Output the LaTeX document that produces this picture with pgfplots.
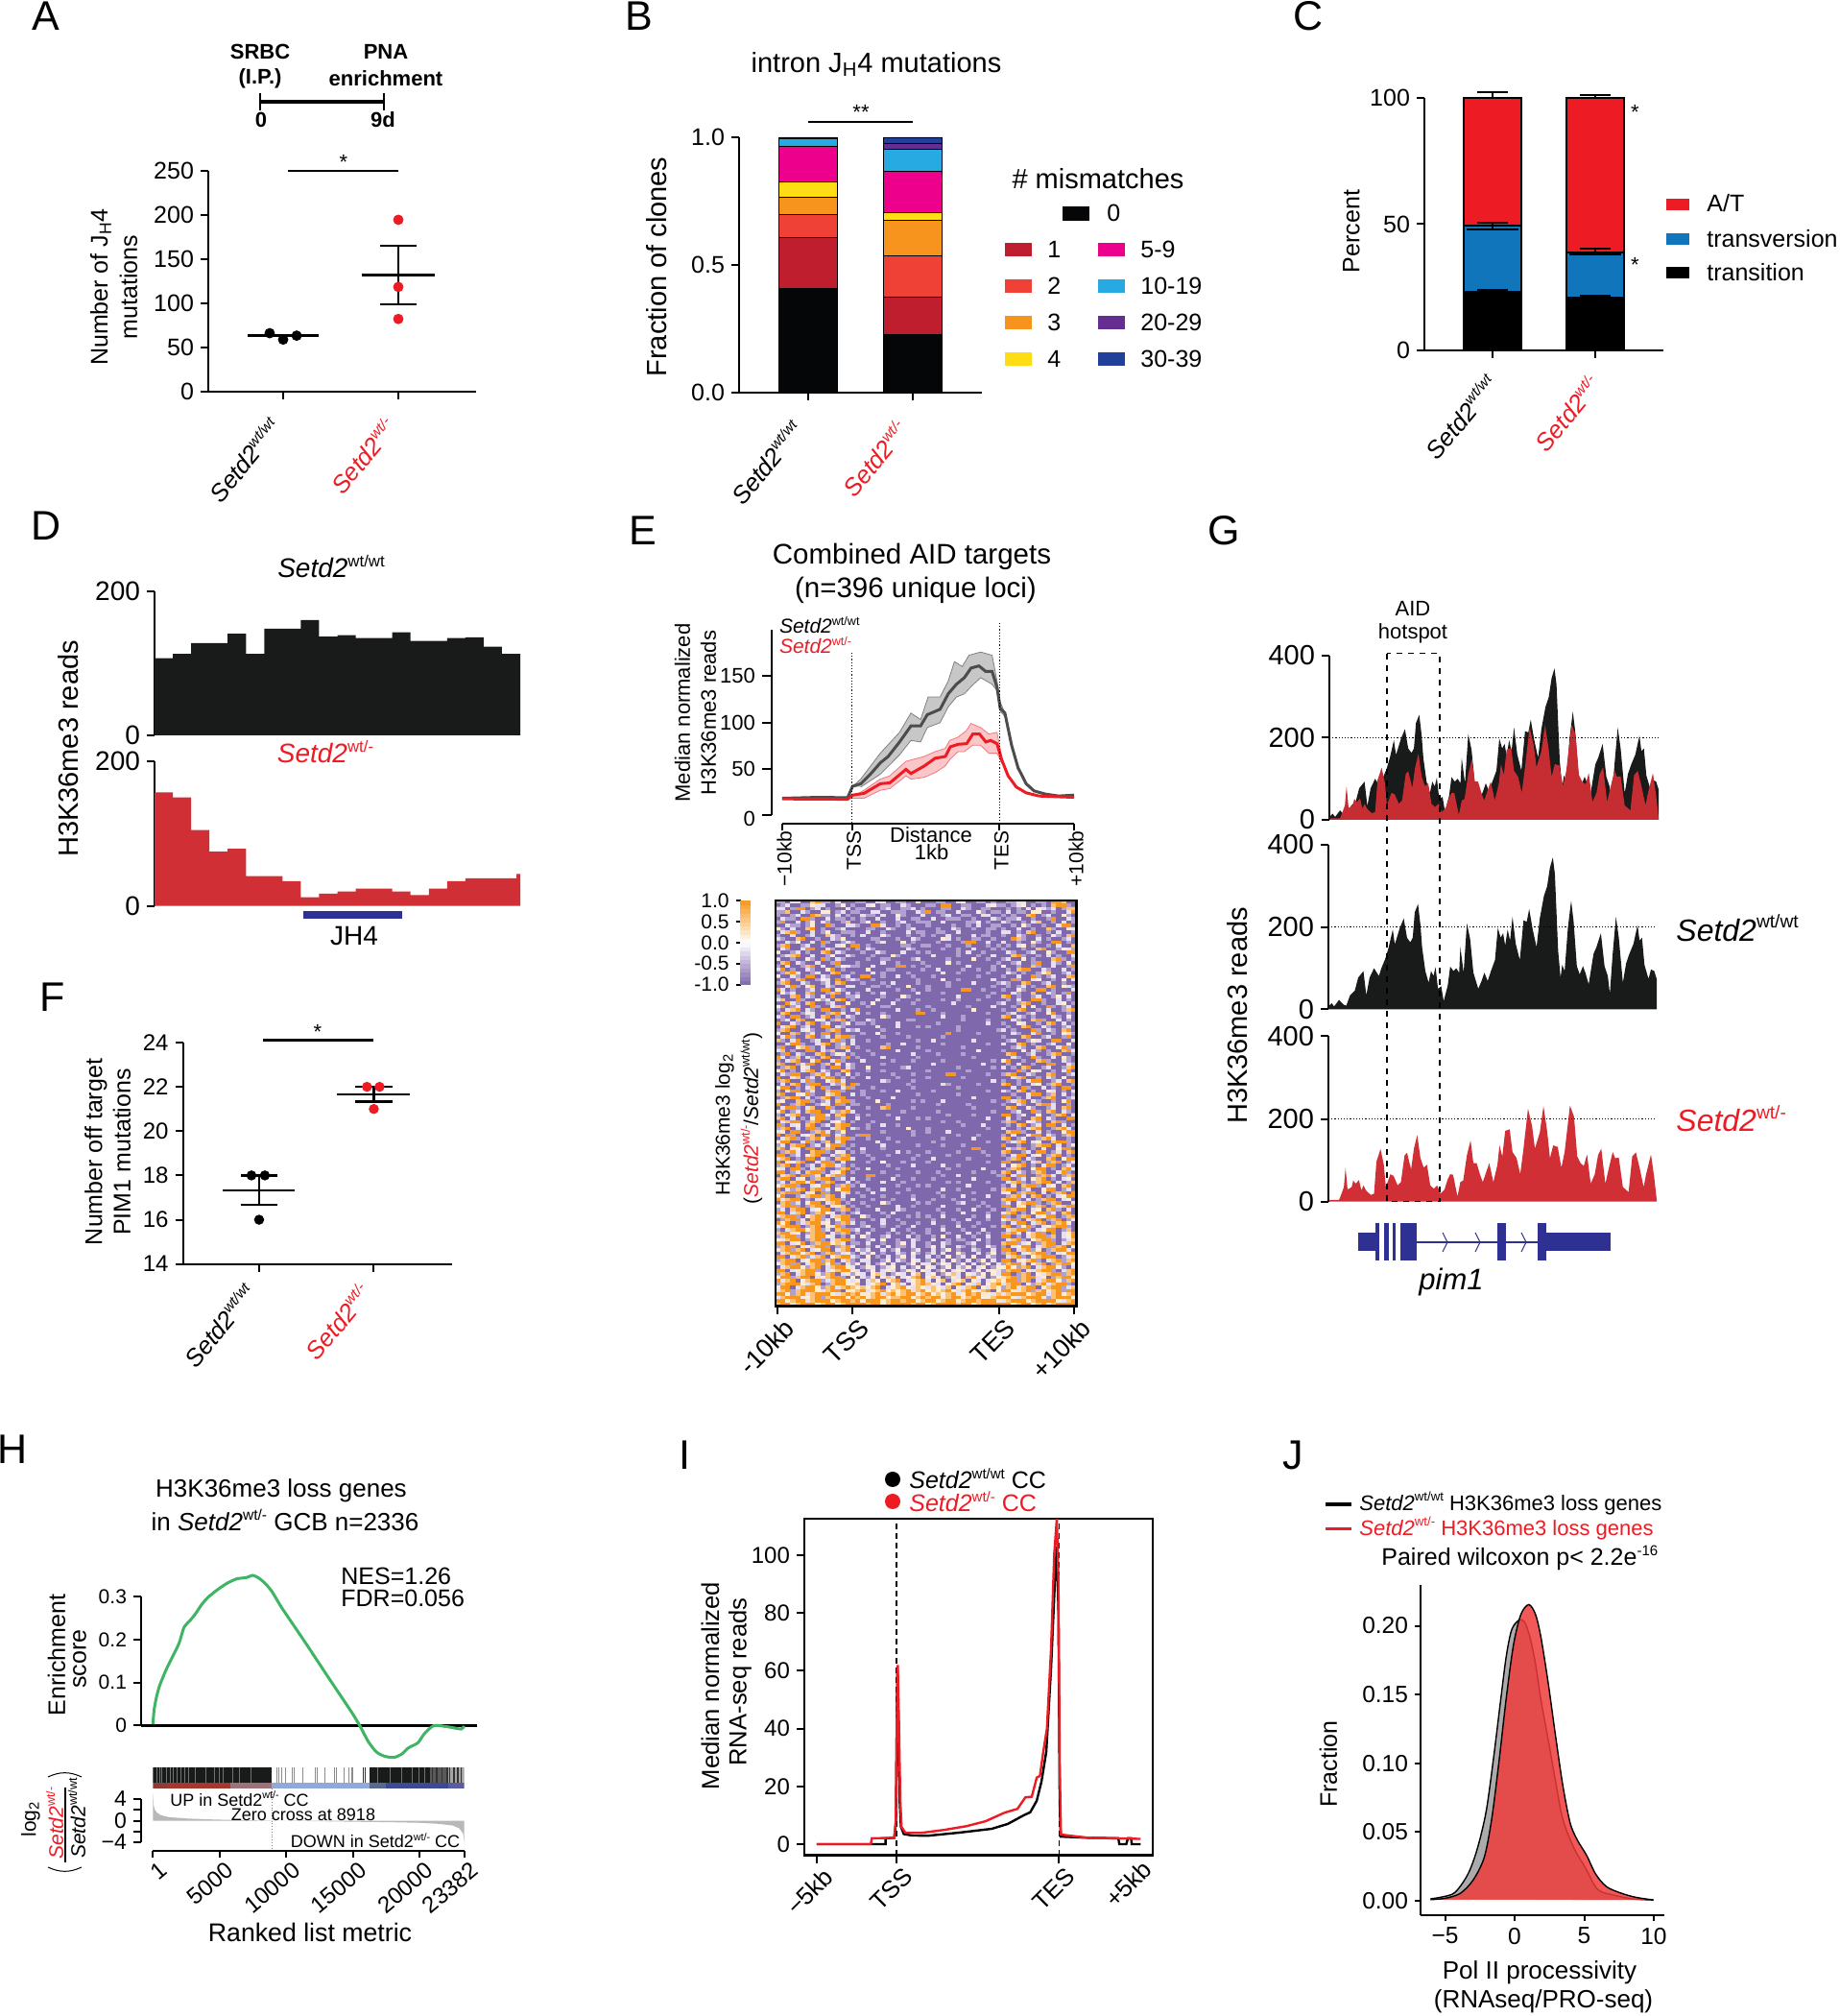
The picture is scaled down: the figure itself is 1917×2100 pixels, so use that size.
\documentclass[border=0pt]{standalone}
\usepackage{fontspec}
\setmainfont{Liberation Sans}
\usepackage{pgfplots}
\usepackage{pgfplotstable}
\pgfplotsset{compat=1.18}
\definecolor{sred}{HTML}{ED1C24}
\definecolor{bk0}{HTML}{050608}\definecolor{bk1}{HTML}{BE1E2D}\definecolor{bk2}{HTML}{EF4136}
\definecolor{bk3}{HTML}{F7941D}\definecolor{bk4}{HTML}{FFDD15}\definecolor{bk5}{HTML}{EC008C}
\definecolor{bk6}{HTML}{27AAE1}\definecolor{bk7}{HTML}{662D91}\definecolor{bk8}{HTML}{21409A}
\definecolor{cblue}{HTML}{1175BC}\definecolor{trk}{HTML}{191A1A}\definecolor{trr}{HTML}{D02F36}
\definecolor{gene}{HTML}{2E3192}\definecolor{gsea}{HTML}{3DB565}\definecolor{jred}{HTML}{EE3B3B}
\definecolor{st1}{HTML}{8E3B36}\definecolor{st2}{HTML}{A8362E}\definecolor{st3}{HTML}{9E7078}\definecolor{st4}{HTML}{8FA9D9}\definecolor{st5}{HTML}{55698F}\definecolor{st6}{HTML}{3A4B94}\definecolor{st7}{HTML}{5B5BA0}
\newcommand\fs[1]{\fontsize{\fpeval{#1/2}}{\fpeval{#1*0.6}}\selectfont}
\newcommand\sups[1]{\raisebox{.42em}{\scalebox{.6}{#1}}}
\newcommand\wtwt{\textit{Setd2}\sups{wt/wt}}
\newcommand\wtm{\textit{Setd2}\sups{wt/-}}
\newcommand\wtwti{\textit{Setd2}\sups{\textit{wt/wt}}}
\newcommand\wtmi{\textit{Setd2}\sups{\textit{wt/-}}}
\newcommand\T[4][]{\node[inner sep=0pt,#1] at (#2,{2100-(#3)}) {#4};}
\newcommand\seg[5][]{\draw[#1] (#2,{2100-(#3)}) -- (#4,{2100-(#5)});}
\newcommand\rect[5]{\fill[#1] (#2,{2100-(#3)}) rectangle (#4,{2100-(#5)});}
\pgfplotsset{
 panel/.code n args={4}{%
  \pgfmathsetlengthmacro\pw{(#3-#1)*0.5pt}\pgfmathsetlengthmacro\ph{(#4-#2)*0.5pt}%
  \pgfmathsetlengthmacro\pa{(#1)*0.5pt}\pgfmathsetlengthmacro\pb{(2100-(#4))*0.5pt}%
  \edef\tmp{\noexpand\pgfplotsset{at={(\pa,\pb)},anchor=south west,width=\pw,height=\ph}}\tmp},
 base/.style={scale only axis,clip=false,enlargelimits=false,scaled ticks=false,
  axis line style={-,line width=1.1pt},tick style={black,line width=1pt},
  major tick length=4pt,minor tick num=0,tick label style={font=\fs{25}},
  xtick=\empty,ytick=\empty},
 rot/.style={xticklabel style={rotate=#1,anchor=north east,inner sep=0pt,font=\fs{25.5},yshift=-4.5pt,xshift=-6pt}},
 rotb/.style={xticklabel style={rotate=#1,anchor=north east,inner sep=0pt,font=\fs{27},yshift=-3pt,xshift=1pt}},
 colormap={hm}{rgb255=(127,104,172) rgb255=(190,175,215) rgb255=(255,255,255) rgb255=(252,205,140) rgb255=(248,150,30)},
}
\pgfplotstableread{
x y
0 7
8 15
14 7
26 23
38 11
44 9
53 34
65 46
73 77
86 93
93 34
101 77
112 100
124 81
130 100
140 124
148 151
158 194
163 158
175 197
185 221
193 174
201 163
207 174
212 236
220 256
226 205
230 151
238 93
246 65
252 93
258 81
263 103
269 50
277 56
283 20
293 58
299 104
307 93
314 100
321 89
324 151
332 89
340 209
348 171
356 89
368 50
376 69
383 89
391 69
399 93
409 120
416 198
423 174
429 185
434 155
440 194
446 167
452 225
460 159
470 120
479 216
487 213
493 244
501 197
511 151
519 221
529 275
537 299
544 345
551 369
556 330
564 143
570 77
574 108
580 93
588 198
596 264
602 214
610 105
617 85
625 105
631 89
639 61
651 135
658 151
669 185
678 105
686 81
691 38
698 135
706 225
713 174
723 65
731 112
739 135
749 159
759 205
764 167
770 174
776 108
786 74
792 97
800 93
806 74
}\gblack
\pgfplotstableread{
x y
2 4
22 4
26 4
28 8
38 35
42 82
47 29
57 35
61 51
67 43
75 52
81 27
86 39
93 26
104 16
112 19
118 97
128 127
136 89
141 35
152 66
160 62
170 39
178 47
187 112
193 118
203 78
210 128
218 161
226 105
234 82
242 89
250 39
259 31
267 39
275 19
285 29
293 54
299 66
306 65
317 12
324 47
331 51
340 112
349 148
356 93
364 93
372 66
379 47
387 70
395 93
405 47
415 89
420 136
427 109
434 171
445 175
452 120
462 105
471 66
479 128
490 225
500 183
507 128
519 167
528 231
537 171
544 105
552 136
563 132
572 82
580 120
593 232
603 206
611 109
619 93
627 86
635 114
644 43
654 66
662 112
670 128
680 43
686 70
698 120
704 105
713 106
723 35
737 23
746 109
755 119
764 82
774 35
780 66
792 114
800 58
806 4
}\gred
% heat map cells: 0 purple ... 3 white ... 5 orange
\makeatletter
\newcount\hr \newcount\hc \hr=0
\gdef\cells{}
\def\addc#1{\xdef\rowc{\rowc (\the\hc,\the\hr) [#1]}\global\advance\hc by 1 }
\def\hscan#1{\ifx#1\end\let\hnext\hpad\else\ifnum\hc<60 \addc{#1}\fi\let\hnext\hscan\fi\hnext}
\def\hpad{\ifnum\hc<60 \addc{0}\expandafter\hpad\fi}
\def\R#1{\gdef\rowc{}\global\hc=0 \hscan#1\end\xdef\cells{\cells\rowc}\global\advance\hr by 1 }
\makeatother
\R{110220045110200 011002200110030 001100230011010 011220011055400}
\R{012001132200130 100230110021000 110550011000231 101230101045510}
\R{220155012010002 011000120011201 000110021001100 010102032120144}
\R{114002100330120 110022001110021 501100200031011 020110330010025}
\R{100120054110201 002110200310002 000120011002200 101004501200310}
\R{021105510020110 101002000200110 020011100100021 011200100150021}
\R{150020130210014 001300100120011 100200001130100 210010240010201}
\R{002110130051002 210055200101000 100001001020011 001031001002550}
\R{310200450100120 000110021001200 001002100100110 100200100410032}
\R{024510020130011 100200100002011 001100200000100 220104500102001}
\R{100200120042100 102000310001001 010020000201100 100210010031045}
\R{210045001002130 000011000100210 000320100110010 005410020100120}
\R{002130020510012 100001200030100 001000015500200 200100310055010}
\R{145001200100230 550100000011001 100010001000101 010230100102004}
\R{021002550021001 010210000002100 000100100200010 100010045001321}
\R{300120100450210 001002100020010 100000102001000 021001200310055}
\R{012450020013002 100010003100000 020000100010020 004510010201002}
\R{200100310510210 000100110000120 000010000300100 120030100045101}
\R{045021002001500 010000200100001 000030100000001 001200150021030}
\R{102001450200132 110020000550100 100000002000010 300100410020015}
\R{250100210035010 000300011000001 002000010010010 010455002100201}
\R{014520012004500 100020100001000 000200100000100 021010013400120}
\R{300210550210012 005500100200100 010000000010000 100200510120045}
\R{021045001320501 210010000000010 000300100000020 005100230010302}
\R{145002100120450 001000102000010 000010000200001 210045001200100}
\R{002510340021002 200011010003000 100010000000010 010120100450321}
\R{520100120550310 000200000100100 100000055001000 100310055010002}
\R{031200450014502 010010200000020 000100000000010 002100400210150}
\R{100450210205001 120000100031000 000000200000100 450100120013020}
\R{240051003120450 100002000100010 000100100010000 010200551002010}
\R{005210450012003 001030002000100 000002000000001 200145001002301}
\R{350120051002450 000100110000000 100000001000020 001020300510120}
\R{102450210550010 250000000200010 010000000300000 100450010200145}
\R{045001320014520 020100100000055 000100000000100 012001200350010}
\R{210550120450102 100000310000000 000200010000000 450210100021030}
\R{012045003201450 100210000001100 000000010000100 002100451002010}
\R{500210450120013 011010000200000 001000000000200 100320010450201}
\R{024501200550210 000002000200010 100000100000000 010045002100120}
\R{145002310014502 120000100000000 000000100000001 201000510210450}
\R{300450120550100 001003000100000 000050000010000 002100250010321}
\R{025100450120455 100000100001000 000100000000000 100045001200150}
\R{410250012004510 200100000000010 020000000200000 012001320055002}
\R{002551002450120 200000010020000 000100000000100 200450100120030}
\R{150034510200145 010000450000010 000000010000000 001210045002510}
\R{240100550214002 000100000200000 100000000030000 100030210100452}
\R{015021004501320 100010000000200 001000010000000 045001200145001}
\R{520140210450015 010000200000010 000000000100000 002100510020310}
\R{102450035002510 002000001000100 000100000000010 350010045100210}
\R{450012550140203 100000100000000 020000000002000 010200100550021}
\R{014503200105502 100300000012000 000000100000010 201045001200145}
\R{350102450210045 000100100000000 100000001000000 000510320010250}
\R{021550014520103 010000001000100 000055000000100 145002100450012}
\R{500240120455010 100200000100000 100000010000000 002450010210300}
\R{145002510034520 000000210000100 000000000000020 100102550012045}
\R{020450155002140 510000000001000 000210000010000 450100230145001}
\R{355010240510025 100010000000100 000000100000000 002051002010550}
\R{102550120045510 001000100200000 010000000000100 210450100320102}
\R{450023510024500 201000000000010 000000100000000 001002550140201}
\R{014550201450150 000100002000000 000000000200000 550102001450012}
\R{230045510120455 100003000000101 000200000000010 012450210010350}
\R{500145001320510 110000010000000 001000001000000 100210045520010}
\R{025510240051002 000100450000100 000000000100000 045003100120450}
\R{350120455002145 200000000010000 001000000000010 001200510450210}
\R{102450015520450 010100010000000 000010000100000 550120030014502}
\R{450201035510120 020000000200010 100000000000200 020100450210055}
\R{024550145002310 100010000000000 000100100000000 145003210045100}
\R{510230450120455 000100200100000 000000010002000 010450120550201}
\R{145020551002450 210100000003000 100000000000100 200102450014520}
\R{230550014520130 000000100000100 100020000000000 045510020100355}
\R{505102340550210 015500000000100 000000100010000 102003550210145}
\R{024510145200455 100100010000000 000100000200000 450120014520010}
\R{355002510140250 000002000100000 010000000000100 012450230045510}
\R{120455012035510 100000200000010 000100010000000 500100145502013}
\R{450230550145001 002000100000000 000000000550000 021450102003550}
\R{014520045510320 101000000201000 100000100001000 450012055012045}
\R{550120345002145 000100010000010 000010000000100 102550230145010}
\R{245010550210455 200010000000100 020000001000000 014502100450355}
\R{502345002551020 000100300010000 100000000000100 550010240145012}
\R{145050120455210 100000010000200 000200100000000 203450102550120}
\R{320551024500145 010200000100000 000010000002000 014500355010452}
\R{550120455102350 100000100000010 001000000100010 450210145002510}
\R{024505512034510 000550000100000 000100200000001 102550014520145}
\R{455023014550120 200100002000100 010000000200000 550120345010230}
\R{120455250145002 010000200010000 000010100000100 024510145502014}
\R{345510023550145 102000000100010 100000002000000 102045510230450}
\R{502145045120355 000100200001000 000200100000010 455012003550120}
\R{145550230510024 010020000100000 001000000100000 230145502014505}
\R{350012455145020 001000100000100 000100020000200 014520450102355}
\R{524550102345510 200010001000200 010001000100000 455102014550230}
\R{045120355024501 001000310000010 100000120001000 120345510145002}
\R{345510145502340 100100000200100 000200000010100 550230145012455}
\R{120455023550145 010002000210000 001000100200010 014550230451020}
\R{550245014532010 120000102000010 000100020000100 245010355120450}
\R{245510345102455 003100010001010 100200000100200 510145023550145}
\R{014552045120355 100010200100000 010001002000100 345102450145012}
\R{535012455230145 201000200010010 020000100010000 102550245014530}
\R{245550145032510 001200100100200 000100200100010 450135102345510}
\R{102455345120455 120010002001000 100200010002000 024551023550140}
\R{455230145502145 010200010100100 100010002010100 145203451050235}
\R{145510245532010 203100120002010 010300200100200 550102455140235}
\R{324550145102455 100120300100210 020010110020100 024510345510124}
\R{550235014553420 110200100130200 100210001200100 455123014550245}
\R{145502345510145 200102030110200 130200210100310 102355024514503}
\R{345145023550245 031200201300120 020130100210020 550245130145520}
\R{024553450145123 102130100210310 120200310020130 145023455102355}
\R{550245124503455 210301020130200 201030120300210 024510345550124}
\R{145502355145024 102200130210320 130203102013020 550234510245145}
\R{345150245535102 130201302001302 201320130201302 145520345014553}
\R{024553145024553 201320123020130 320130213023013 353145024553102}
\R{550234551023455 320130232013203 201302320130232 145503245510245}
\R{145024553145023 132034201320340 230134203213032 550145032455145}
\R{355145502345510 302130342023450 342013204532013 245145523014553}
\R{524503455124553 230243034502345 203402340320234 355145024553145}
\R{145553245014553 340234503420345 432034503240345 245503145245510}
\R{355024553145245 434345023453243 243240324503243 145245503455124}
\R{245145553245503 345234534345245 343453245324503 553245145345155}
\R{553145245553245 453345245345534 534345235453324 245553455245345}
\R{245553345145553 545345534455345 455345534553345 553245553145553}
\R{553455245553455 453555345545534 553455345545553 245553455553245}
\R{455245553455345 555455345555455 345555455345555 553455345245555}
\R{553555455245555 455555545555455 555455555545555 555245555455553}
\begin{document}
\begin{tikzpicture}[x=0.5pt,y=0.5pt]
\path[use as bounding box] (0,0) rectangle (1917,2100);
\tikzset{every node/.append style={font=\fs{25}}}
% letters
\T{48}{17}{\fs{43}A}\T{666}{17}{\fs{43}B}\T{1363}{17}{\fs{43}C}\T{48}{548}{\fs{43}D}\T{670}{553}{\fs{43}E}\T{55}{1039}{\fs{43}F}\T{1275}{553}{\fs{43}G}\T{13}{1510}{\fs{43}H}\T{713}{1516}{\fs{43}I}\T{1347}{1516}{\fs{43}J}
%%%% A
\T{271}{54}{\fs{22}\textbf{SRBC}}\T{271}{82}{\fs{22}\textbf{(I.P.)}}\T{402}{54}{\fs{22}\textbf{PNA}}\T{402}{82}{\fs{22}\textbf{enrichment}}
\T{272}{125}{\fs{22}\textbf{0}}\T{399}{125}{\fs{22}\textbf{9d}}
\seg[line width=1.6pt]{271}{106}{400}{106}\seg[line width=1pt]{271}{97}{271}{115}\seg[line width=1pt]{400}{97}{400}{115}
\begin{axis}[base,panel={217}{178}{496}{408},axis lines*=left,tick align=outside,xmin=.35,xmax=2.675,ymin=0,ymax=250,
 ytick={0,50,100,150,200,250},yticklabels={0,50,100,150,200,250},
 xtick={1,2},xticklabels={\wtwti,\textcolor{sred}{\wtmi}},rot=50,xticklabel style={xshift=-5.4pt,yshift=5.4pt}]
\addplot[only marks,mark=*,mark size=2.5pt,black] coordinates {(.883,66.2)(1,59)(1.117,63.4)};
\addplot[only marks,mark=*,mark size=2.5pt,sred] coordinates {(2,194.6)(2,118.6)(2,82.3)};
\addplot[black,line width=1.2pt,unbounded coords=jump] coordinates {(.69,63.5)(1.31,63.5)(1.5,nan)(1.68,132)(2.32,132)(2,nan)(2,99)(2,165)(2,nan)(1.84,165)(2.16,165)(2,nan)(1.84,99)(2.16,99)};
\end{axis}
\seg[line width=1.2pt]{300}{178}{415}{178}\T{358}{169}{\fs{22}*}
\T[rotate=90]{105}{299}{Number of J\textsubscript{H}4}\T[rotate=90]{134}{299}{mutations}
%%%% B
\begin{axis}[base,panel={770}{143}{1023}{409},axis lines*=left,tick align=outside,xmin=.339,xmax=2.66,ymin=0,ymax=1,
 ybar stacked,bar width=30.5pt,
 ytick={0,.5,1},yticklabels={0.0,0.5,1.0},xtick={1,2},xticklabels={\wtwti,\textcolor{sred}{\wtmi}},rot=50,xticklabel style={xshift=-7pt,yshift=6pt},
 every axis plot/.append style={draw=black,line width=.4pt}]
\addplot[fill=bk0] coordinates {(1,.407)(2,.229)};
\addplot[fill=bk1] coordinates {(1,.201)(2,.147)};
\addplot[fill=bk2] coordinates {(1,.088)(2,.160)};
\addplot[fill=bk3] coordinates {(1,.070)(2,.139)};
\addplot[fill=bk4] coordinates {(1,.059)(2,.031)};
\addplot[fill=bk5] coordinates {(1,.141)(2,.161)};
\addplot[fill=bk6] coordinates {(1,.030)(2,.085)};
\addplot[fill=bk7] coordinates {(1,0)(2,.023)};
\addplot[fill=bk8] coordinates {(1,.004)(2,.025)};
\end{axis}
\T{913}{67}{\fs{29}intron J\textsubscript{H}4 mutations}
\seg[line width=1.2pt]{842}{127}{951}{127}\T{897}{117}{\fs{22}**}
\T[rotate=90]{684}{278}{\fs{29}Fraction of clones}
\T{1144}{186}{\fs{29}\# mismatches}
\rect{bk0}{1107}{215}{1135}{230}\T[anchor=west]{1153}{222}{0}
\foreach \yy/\cc/\lb in {260/bk1/1,298/bk2/2,336/bk3/3,374/bk4/4}{\rect{\cc}{1047}{\yy-7}{1075}{\yy+7}\T[anchor=west]{1091}{\yy}{\lb}}
\foreach \yy/\cc/\lb in {260/bk5/5-9,298/bk6/10-19,336/bk7/20-29,374/bk8/30-39}{\rect{\cc}{1144}{\yy-7}{1172}{\yy+7}\T[anchor=west]{1188}{\yy}{\lb}}
%%%% C
\begin{axis}[base,panel={1484}{102}{1733}{365},axis lines*=left,tick align=outside,xmin=.336,xmax=2.664,ymin=0,ymax=100,
 ybar stacked,bar width=30pt,
 ytick={0,50,100},yticklabels={0,50,100},xtick={1,2},xticklabels={\wtwti,\textcolor{sred}{\wtmi}},rot=50,xticklabel style={xshift=-2.3pt,yshift=3pt},
 every axis plot/.append style={draw=black,line width=1pt}]
\addplot[fill=black] coordinates {(1,23.1)(2,20.9)};
\addplot[fill=cblue] coordinates {(1,26.2)(2,17.9)};
\addplot[fill=sred] coordinates {(1,50.7)(2,61.2)};
\end{axis}
\begin{axis}[base,panel={1484}{102}{1733}{365},axis lines=none,xmin=.336,xmax=2.664,ymin=0,ymax=100]
\addplot[black,line width=1pt,unbounded coords=jump] coordinates {(1,100)(1,102.1)(1,nan)(.85,102.1)(1.15,102.1)(1,nan)(2,100)(2,101)(1,nan)(1.85,101)(2.15,101)(1,nan)
 (.75,47.8)(1.25,47.8)(1,nan)(.85,50.5)(1.15,50.5)(1,nan)(1,47.8)(1,50.5)(1,nan)(.85,24.1)(1.15,24.1)(1,nan)(1,23)(1,24.1)(1,nan)(.75,22)(1.25,22)(1,nan)
 (1.85,40.3)(2.15,40.3)(1,nan)(2,38.8)(2,40.3)(1,nan)(1.75,37.9)(2.25,37.9)(1,nan)(1.85,21.5)(2.15,21.5)(1,nan)(2,20.5)(2,21.5)};
\end{axis}
\T[rotate=90]{1408}{241}{Percent}\T{1703.5}{117}{\fs{22}*}\T{1703.5}{276}{\fs{22}*}
\rect{sred}{1736}{207}{1760}{219}\rect{cblue}{1736}{243}{1760}{255}\rect{black}{1736}{278}{1760}{290}
\T[anchor=west]{1778}{212}{A/T}\T[anchor=west]{1778}{249}{transversion}\T[anchor=west]{1778}{284}{transition}
%%%% D
\begin{axis}[base,panel={161}{616}{542}{766},axis y line*=left,axis x line=none,tick align=outside,xmin=0,xmax=20,ymin=0,ymax=200,
 tick label style={font=\fs{28}},ytick={0,200},yticklabels={0,200}]
\addplot[const plot,fill=trk,draw=none] coordinates {(0,107)(1,113)(2,128)(3,128)(4,141)(5,113)(6,148)(7,148)(8,160)(9,137)(10,139)(11,135)(12,135)(13,143)(14,131)(15,131)(16,135)(17,136)(18,123)(19,113)(20,113)} \closedcycle;
\end{axis}
\begin{axis}[base,panel={161}{793}{542}{943.6},axis y line*=left,axis x line=none,tick align=outside,xmin=0,xmax=20,ymin=0,ymax=200,
 tick label style={font=\fs{28}},ytick={0,200},yticklabels={0,200}]
\addplot[const plot,fill=trr,draw=none] coordinates {(0,157)(1,150)(2,105)(3,75)(4,79)(5,41)(6,41)(7,34)(8,12)(9,17)(10,20)(11,24)(12,24)(13,20)(14,15)(15,24)(16,34)(17,38)(18,38)(19,38)(19.8,44)(20,44)} \closedcycle;
\end{axis}
\T{345}{590}{\fs{28}\wtwt}\T{339}{783}{\fs{28}\textcolor{sred}{\wtm}}
\T[rotate=90]{71}{780}{\fs{29}H3K36me3 reads}
\rect{gene}{316}{949}{419}{957}\T{369}{975}{\fs{28}JH4}
%%%% F
\begin{axis}[base,panel={190.6}{1086}{470.5}{1316.7},axis lines*=left,tick align=outside,xmin=.336,xmax=2.678,ymin=14,ymax=24,
 tick label style={font=\fs{24}},ytick={14,16,18,20,22,24},yticklabels={14,16,18,20,22,24},
 xtick={1,2},xticklabels={\wtwti,\textcolor{sred}{\wtmi}},rot=50,xticklabel style={xshift=-3pt,yshift=8pt}]
\addplot[only marks,mark=*,mark size=2.4pt,black] coordinates {(.933,18)(1.05,18)(1,16)};
\addplot[only marks,mark=*,mark size=2.4pt,sred] coordinates {(1.94,22)(2.05,22)(2,21)};
\addplot[black,line width=1.1pt,unbounded coords=jump] coordinates {(.68,17.33)(1.31,17.33)(1,nan)(.84,18)(1.16,18)(1,nan)(.84,16.67)(1.16,16.67)(1,nan)(1,16.67)(1,18)(1,nan)
 (1.68,21.67)(2.31,21.67)(1,nan)(1.84,22)(2.16,22)(1,nan)(1.84,21.33)(2.16,21.33)(1,nan)(2,21.33)(2,22)};
\end{axis}
\seg[line width=1.1pt]{274}{1083.6}{389}{1083.6}\T{331}{1075}{\fs{22}*}
\T[rotate=90]{100}{1200}{Number off target}\T[rotate=90]{127}{1200}{PIM1 mutations}
%%%% E top
\T{950}{580}{\fs{29.5}Combined AID targets}\T{954}{615}{\fs{29.5}(n=396 unique loci)}
\begin{axis}[base,panel={804}{656}{1119}{849.3},axis y line*=left,axis x line=none,tick align=outside,xmin=-3.6,xmax=100,ymin=0,ymax=200,
 major tick length=5pt,tick label style={font=\fs{22}},ytick={0,50,100,150},yticklabels={\raisebox{-11pt}{0},50,100,150}]
\addplot[fill=black!22,draw=black!50,line width=.4pt] coordinates {(24.1,31)(26.9,39.1)(33.6,66.9)(40.2,89.4)(44.1,110.2)(47.4,103.2)(50,127.5)(54.1,127.5)(56.9,144.8)(59,165.6)(61.7,160.4)(64,172.5)(68,176)(71.9,172.5)(73.6,144.8)(74.7,122.3)(76.3,110)(76.3,106.7)(74.7,111.9)(73.6,134.4)(71.9,141.3)(68,148.3)(65,139.6)(62.4,130.9)(59.7,127.5)(56.9,117)(54.1,99.8)(49.7,94.6)(47.4,79)(44.1,80.7)(40.2,65.1)(33.6,44.3)(26.9,30.5)};
\addplot[fill=sred!25,draw=sred!60,line width=.4pt] coordinates {(24.1,20)(28,27)(33.6,39)(36.9,42.6)(42.4,58.2)(48.6,63.4)(52.4,68.6)(55.8,72)(57.4,80.7)(60.2,84.2)(63,91)(64.7,99)(68,94.6)(70.8,87.6)(73.6,89.4)(75.2,63.4)(75.2,56.5)(73.6,66.9)(70.8,66.9)(68,75.5)(65.2,75.5)(62.4,68.6)(60.2,68.6)(57.4,60)(55.8,53)(52.4,46)(48.6,40.9)(44.1,39)(42.4,42.6)(36.9,28.8)(33.6,27)(28,18.4)(24.1,18.4)};
\addplot[black!70,line width=1.5pt] coordinates {(0,18.4)(12.4,19.4)(22.4,19)(24.1,31.2)(26.9,34)(30.2,44.3)(33.6,56.5)(36.3,63.4)(40.2,79)(44.1,96.3)(47.4,96.3)(49.7,108.4)(54.1,114.3)(56.9,131)(59.7,141.3)(62.4,148.3)(64.7,158.7)(67.4,161)(69.7,155.2)(71.9,155.2)(73.6,137.9)(74.7,115.4)(76.3,110.2)(78.6,75.5)(80.8,51.3)(83.6,34)(86.3,26.3)(90.2,22.9)(94.7,20.8)(100,21.8)};
\addplot[sred,line width=1.5pt] coordinates {(0,17.7)(22.4,17.3)(24.1,21.8)(28,23.6)(33.6,34)(36.9,35)(42.4,49.5)(44.1,45)(48.6,53)(52.4,61.5)(55.9,63.4)(57.6,73.8)(60.4,76.6)(63.2,77.2)(65.3,87.6)(67.6,87.6)(69.8,79)(71.4,80.7)(73.6,77.2)(75.2,60)(77.4,42.6)(80.2,30.5)(83.6,24.2)(88,20.8)(100,19.4)};
\end{axis}
\begin{axis}[base,panel={815}{852}{1119}{858.3},axis x line*=bottom,axis y line=none,tick align=outside,xmin=0,xmax=100,ymin=0,ymax=1,
 major tick length=3.5pt,xtick={0,23.9,74.5,100},xticklabels={−10kb,TSS,TES,+10kb},
 xticklabel style={rotate=90,anchor=east,inner sep=0pt,font=\fs{21},xshift=0pt,yshift=-1pt}]
\end{axis}
\seg[densely dotted,line width=.6pt]{887.7}{680}{887.7}{858}\seg[densely dotted,line width=.6pt]{1041.5}{649}{1041.5}{858}
\T[anchor=west]{811.6}{651}{\fs{21}\wtwt}\T[anchor=west]{811.6}{672}{\fs{21}\textcolor{sred}{\wtm}}
\T[rotate=90]{711}{742.5}{\fs{22}Median normalized}\T[rotate=90]{738}{742.5}{\fs{22}H3K36me3 reads}
\T{970}{870}{\fs{22}Distance}\T{970.5}{888}{\fs{22}1kb}
%%%% E heat
\begin{axis}[base,panel={808}{938}{1121.7}{1360.7},axis on top,xmin=-.5,xmax=59.5,ymin=-.5,ymax=119.5,y dir=reverse,clip=true,
 tick align=outside,xtick pos=lower,colormap name=hm,point meta min=0,point meta max=5,
 major tick length=4pt,xtick={-.12,14.8,44,59},xticklabels={-10kb,TSS,TES,+10kb},rotb=45,
 axis line style={line width=1.3pt}]
\edef\tmp{\noexpand\addplot[matrix plot*,mesh/cols=60,point meta=explicit] coordinates {\cells};}\tmp
\end{axis}
\begin{axis}[base,panel={771.7}{938}{781}{1025.7},axis y line*=left,axis x line=none,tick align=outside,xmin=0,xmax=1,ymin=-1,ymax=1,
 colormap name=hm,point meta min=-1,point meta max=1,major tick length=2.5pt,tick label style={font=\fs{21}},
 ytick={-1,-.5,0,.5,1},yticklabels={-1.0,-0.5,0.0,0.5,1.0}]
\addplot[surf,shader=flat mean,mesh/cols=2,point meta=y] coordinates {(0,-1)(1,-1)(0,-.9)(1,-.9)(0,-.8)(1,-.8)(0,-.7)(1,-.7)(0,-.6)(1,-.6)(0,-.5)(1,-.5)(0,-.4)(1,-.4)(0,-.3)(1,-.3)(0,-.2)(1,-.2)(0,-.1)(1,-.1)(0,0)(1,0)(0,.1)(1,.1)(0,.2)(1,.2)(0,.3)(1,.3)(0,.4)(1,.4)(0,.5)(1,.5)(0,.6)(1,.6)(0,.7)(1,.7)(0,.8)(1,.8)(0,.9)(1,.9)(0,1)(1,1)};
\end{axis}
\T[rotate=90]{755}{1171.7}{\fs{21}H3K36me3 log\textsubscript{2}}
\T[rotate=90]{783}{1165}{\fs{21}(\textcolor{sred}{\wtm}/\wtwt)}
%%%% G
\begin{axis}[base,panel={1385}{683}{1728}{854},axis y line*=left,axis x line=none,tick align=outside,xmin=0,xmax=806,ymin=0,ymax=400,
 tick label style={font=\fs{29}},ytick={0,200,400},yticklabels={0,200,400}]
\addplot[fill=trk,draw=none] table[x=x,y=y]{\gblack}\closedcycle;
\addplot[fill=trr!95!black,draw=none] table[x=x,y=y]{\gred}\closedcycle;
\addplot[densely dotted,line width=.6pt] coordinates {(0,200)(806,200)};
\end{axis}
\begin{axis}[base,panel={1384}{880}{1726}{1051.4},axis y line*=left,axis x line=none,tick align=outside,xmin=0,xmax=806,ymin=0,ymax=400,
 tick label style={font=\fs{29}},ytick={0,200,400},yticklabels={0,200,400}]
\addplot[fill=trk,draw=none] table[x=x,y=y]{\gblack}\closedcycle;
\addplot[densely dotted,line width=.6pt] coordinates {(0,200)(806,200)};
\end{axis}
\begin{axis}[base,panel={1384}{1079.5}{1726}{1251.6},axis y line*=left,axis x line=none,tick align=outside,xmin=0,xmax=806,ymin=0,ymax=400,
 tick label style={font=\fs{29}},ytick={0,200,400},yticklabels={0,200,400}]
\addplot[fill=trr,draw=none] table[x=x,y=y]{\gred}\closedcycle;
\addplot[densely dotted,line width=.6pt] coordinates {(0,200)(806,200)};
\end{axis}
\draw[dashed,line width=.7pt] (1445,{2100-680.6}) -- (1445,{2100-1251.6}) -- (1500,{2100-1251.6}) -- (1500,{2100-680.6}) -- cycle;
\T{1472}{633.6}{\fs{22}AID}\T{1472}{660}{\fs{22}hotspot}
\T[rotate=90]{1289}{1058}{\fs{29}H3K36me3 reads}
\T[anchor=west]{1746}{966.6}{\fs{32}\wtwt}\T[anchor=west]{1746}{1165}{\fs{32}\textcolor{sred}{\wtm}}
\seg[gene,line width=.6pt]{1476}{1294}{1602}{1294}
\rect{gene}{1415}{1284}{1433}{1303.5}\rect{gene}{1433}{1274}{1437}{1313}\rect{gene}{1442}{1274}{1447}{1313}\rect{gene}{1451}{1274}{1454}{1313}\rect{gene}{1459}{1274}{1476}{1313}
\rect{gene}{1560}{1274}{1568.6}{1313}\rect{gene}{1602}{1274}{1611}{1313}\rect{gene}{1611}{1284}{1678}{1303.5}
\foreach \cx in {1503,1537,1585}{\draw[gene,line width=.5pt] (\cx,{2100-1284}) -- (\cx+5,{2100-1294}) -- (\cx,{2100-1304});}
\T{1512}{1335}{\fs{31}\textit{pim1}}
%%%% H
\T{293}{1553}{\fs{26}H3K36me3 loss genes}\T{297}{1583.6}{\fs{26}in \wtm\ GCB n=2336}
\T[anchor=west]{355}{1642}{NES=1.26}\T[anchor=west]{355}{1665}{FDR=0.056}
\begin{axis}[base,panel={147}{1663}{497}{1797.5},axis lines*=left,tick align=outside,xmin=-887,xmax=24348,ymin=0,ymax=.3,
 tick label style={font=\fs{21}},ytick={0,.1,.2,.3},yticklabels={0,0.1,0.2,0.3}]
\addplot[gsea,line width=1.5pt,smooth,tension=.4] coordinates {(1,.003)(96,.038)(289,.069)(530,.095)(1011,.131)(1492,.161)(1974,.192)(2335,.228)(2816,.245)(3177,.259)(3659,.281)(4140,.298)(4862,.316)(5584,.331)(6306,.341)(7028,.344)(7510,.349)(7991,.342)(8473,.329)(8954,.311)(9676,.274)(11361,.197)(13287,.107)(14972,.029)(15573,-.002)(16175,-.037)(16777,-.061)(17379,-.071)(18101,-.074)(18702,-.066)(19184,-.052)(19906,-.04)(20387,-.019)(21109,0)(22192,-.003)(23155,-.008)(23382,-.001)};
\end{axis}
\T[rotate=90]{59}{1724}{Enrichment}\T[rotate=90]{83}{1728}{score}
\begin{axis}[base,panel={159.3}{1841}{483.7}{1863},axis lines=none,xmin=1,xmax=23382,ymin=0,ymax=22,clip=true]
\addplot[fill=trk,draw=none] coordinates {(1,6)(8918,6)(8918,22)(1,22)};
\addplot[fill=trk,draw=none] coordinates {(16295,6)(20800,6)(20800,22)(16295,22)};
\addplot[fill=black!65,draw=none] coordinates {(20800,6)(22000,6)(22000,22)(20800,22)};
\addplot[fill=black!35,draw=none] coordinates {(22000,6)(23382,6)(23382,22)(22000,22)};
\addplot[ycomb,black!55,line width=.5pt] coordinates {(300,22)(500,22)(700,22)(1000,22)(1300,22)(1500,22)(1800,22)(2100,22)(2400,22)(2700,22)(3200,22)(4000,22)(4600,22)(5000,22)(5300,22)(6000,22)(6500,22)(7400,22)(16900,22)(17800,22)(18700,22)(19500,22)(20000,22)(20400,22)};
\addplot[ycomb,black!45,line width=.6pt] coordinates {(9339,22)(9435,22)(9676,22)(9989,22)(10446,22)(10639,22)(11241,22)(12203,22)(12324,22)(12926,22)(13648,22)(13768,22)(14370,22)(14731,22)(14972,22)};
\addplot[ycomb,black!80,line width=.7pt] coordinates {(15814,22)(15934,22)(21000,22)(21300,22)(21700,22)(22100,22)(22300,22)(22600,22)(22900,22)(23150,22)};
\addplot[fill=st1,draw=none] coordinates {(1,0)(1132,0)(1132,6)(1,6)};
\addplot[fill=st2,draw=none] coordinates {(1132,0)(5826,0)(5826,6)(1132,6)};
\addplot[fill=st3,draw=none] coordinates {(5826,0)(8918,0)(8918,6)(5826,6)};
\addplot[fill=st4,draw=none] coordinates {(8918,0)(16295,0)(16295,6)(8918,6)};
\addplot[fill=st5,draw=none] coordinates {(16295,0)(17500,0)(17500,6)(16295,6)};
\addplot[fill=st6,draw=none] coordinates {(17500,0)(22200,0)(22200,6)(17500,6)};
\addplot[fill=st7,draw=none] coordinates {(22200,0)(23382,0)(23382,6)(22200,6)};
\end{axis}
\begin{axis}[base,panel={147}{1874}{483.7}{1919},axis y line*=left,axis x line=none,tick align=outside,xmin=-887,xmax=23382,ymin=-4,ymax=4,
 tick label style={font=\fs{23}},ytick={-4,-2,0,2,4},yticklabels={−4,,0,,4}]
\addplot[fill=black!28,draw=none] coordinates {(1,5.2)(60,2.8)(150,2)(300,1.5)(600,1)(1200,.65)(2500,.4)(4000,.25)(6000,.12)(8918,0)(12000,-.1)(15000,-.2)(18000,-.3)(20000,-.4)(21500,-.6)(22500,-.9)(23000,-1.4)(23300,-2.4)(23382,-4.2)(23382,0)(1,0)};
\end{axis}
\seg[densely dotted,black!50,line width=.4pt]{283.3}{1863}{283.3}{1927.6}
\T{249.5}{1873.4}{\fs{18}UP in Setd2\sups{wt/-} CC}\T{316}{1890.4}{\fs{18}Zero cross at 8918}\T{391}{1917}{\fs{18}DOWN in Setd2\sups{wt/-} CC}
\begin{axis}[base,panel={159.3}{1921}{484}{1927.6},axis x line*=bottom,axis y line=none,tick align=outside,xmin=1,xmax=23382,ymin=0,ymax=1,
 major tick length=3.5pt,xtick={1,5000,10000,15000,20000,23382},xticklabels={1,5000,10000,15000,20000,23382},rotb=40,xticklabel style={font=\fs{24}}]
\end{axis}
\T[rotate=90]{32}{1895}{\fs{21}log\textsubscript{2}}
\T[rotate=90]{57}{1899}{\fs{21}\textcolor{sred}{\wtm}}\T[rotate=90]{80}{1894}{\fs{21}\wtwt}
\seg[line width=.7pt]{68}{1862}{68}{1940}
\draw[line width=.5pt] (50,{2100-1851}) to[bend left=25] (85,{2100-1851});
\draw[line width=.5pt] (50,{2100-1945}) to[bend right=25] (85,{2100-1945});
\T{323}{2013}{\fs{26.7}Ranked list metric}
%%%% I
\fill (930,{2100-1541}) circle (8);\fill[sred] (930,{2100-1564}) circle (8);
\T[anchor=west]{947}{1540}{\wtwt\ CC}\T[anchor=west]{947}{1564}{\textcolor{sred}{\wtm\ CC}}
\begin{axis}[base,panel={838}{1582}{1201}{1932.7},tick align=outside,xtick pos=lower,ytick pos=left,xmin=-5.78,xmax=16.08,ymin=-3.9,ymax=112.6,
 axis line style={line width=1.3pt},tick label style={font=\fs{24}},ytick={0,20,40,60,80,100},yticklabels={0,20,40,60,80,100},
 xtick={-5,0,10.2},xticklabels={−5kb,TSS,TES},rotb=45,xticklabel style={font=\fs{25.5}},
 extra x ticks={15},extra x tick labels={+5kb},extra x tick style={major tick length=0pt}]
\addplot[densely dashed,line width=.6pt] coordinates {(0,-3.9)(0,112.6)};
\addplot[densely dashed,line width=.6pt] coordinates {(10.2,-3.9)(10.2,112.6)};
\addplot[black,line width=1.2pt] coordinates {(-5,0)(-.68,0)(-.68,2)(-.14,2.2)(-.04,7)(.02,41)(.06,61)(.12,41)(.2,15)(.28,6)(.46,3.5)(.96,3)(1.97,2.9)(3.98,4)(5.98,5.3)(6.99,7)(7.99,10)(8.39,11)(8.8,15)(9.1,21.7)(9.4,32)(9.7,61)(9.94,91)(10.06,103)(10.16,81)(10.24,15)(10.3,2.6)(12,2.2)(13.92,2)(13.98,0)(14.42,0)(14.52,2)(14.72,2)(14.76,0)(15.32,0)};
\addplot[sred,line width=1.2pt] coordinates {(-5,0)(-1.61,0)(-1.55,2)(-.14,2.2)(-.04,8.6)(.02,41)(.08,62)(.16,41)(.24,15)(.32,5.9)(.56,3.9)(1.57,3.9)(2.97,4.9)(4.38,6.2)(5.58,7.9)(6.79,10.9)(7.59,12.2)(8.09,16.2)(8.49,16.4)(8.8,23)(9,23.6)(9.2,31.5)(9.44,40)(9.7,67.7)(9.9,100.5)(10.06,112.6)(10.16,91)(10.24,28)(10.32,3.3)(12,2.2)(15.32,1.8)};
\end{axis}
\T[rotate=90]{740}{1756}{\fs{25.6}Median normalized}\T[rotate=90]{771}{1752}{\fs{25.6}RNA-seq reads}
%%%% J
\seg[line width=1.8pt]{1381}{1567}{1408}{1567}\seg[sred,line width=1.8pt]{1381}{1592.7}{1408}{1592.7}
\T[anchor=west]{1416}{1566}{\fs{22}\wtwt\ H3K36me3 loss genes}\T[anchor=west]{1416}{1592}{\fs{22}\textcolor{sred}{\wtm\ H3K36me3 loss genes}}
\T[anchor=west]{1439}{1623}{Paired wilcoxon p< 2.2e\sups{-16}}
\begin{axis}[base,panel={1480}{1651}{1734}{1995},axis lines*=left,tick align=outside,xmin=-6.76,xmax=10.76,ymin=-.0105,ymax=.2297,
 major tick length=3pt,tick label style={font=\fs{24.5}},ytick={0,.05,.1,.15,.2},yticklabels={0.00,0.05,0.10,0.15,0.20},
 xtick={-5,0,5,10},xticklabels={−5,0,5,10}]
\addplot[fill=black!33,draw=black,line width=.7pt,smooth,tension=.5] coordinates {(-6.04,.0014)(-5.2,.0028)(-4.28,.0061)(-3.36,.0193)(-2.7,.0372)(-2.05,.0648)(-1.52,.1034)(-1,.1462)(-.6,.1779)(-.21,.1972)(.31,.2041)(.71,.2028)(1.1,.1917)(1.5,.1724)(1.89,.1462)(2.41,.1172)(2.94,.0869)(3.46,.0593)(4.25,.0386)(5.04,.0248)(5.96,.0083)(7.14,.0041)(8.45,.0014)(9.97,.0006)};
\addplot[fill=jred,fill opacity=.85,draw=none,smooth,tension=.5] coordinates {(-6.04,.0008)(-4.94,.0019)(-3.89,.0055)(-2.97,.0152)(-2.18,.0317)(-1.65,.0593)(-1.13,.1007)(-.6,.1476)(-.08,.1862)(.45,.2083)(1.02,.2154)(1.5,.2083)(1.89,.1917)(2.41,.1586)(2.94,.12)(3.46,.0841)(3.99,.0566)(4.51,.0441)(5.17,.0331)(5.83,.0193)(6.61,.0102)(7.66,.0055)(8.71,.0025)(9.97,.0006)};
\addplot[black,line width=.7pt,smooth,tension=.5] coordinates {(-6.04,.0008)(-4.94,.0019)(-3.89,.0055)(-2.97,.0152)(-2.18,.0317)(-1.65,.0593)(-1.13,.1007)(-.6,.1476)(-.08,.1862)(.45,.2083)(1.02,.2154)(1.5,.2083)(1.89,.1917)(2.41,.1586)(2.94,.12)(3.46,.0841)(3.99,.0566)(4.51,.0441)(5.17,.0331)(5.83,.0193)(6.61,.0102)(7.66,.0055)(8.71,.0025)(9.97,.0006)};
\end{axis}
\T[rotate=90]{1384}{1837.5}{Fraction}
\T{1604}{2055}{\fs{26}Pol II processivity}\T{1608}{2085}{\fs{26}(RNAseq/PRO-seq)}
\end{tikzpicture}
\end{document}
